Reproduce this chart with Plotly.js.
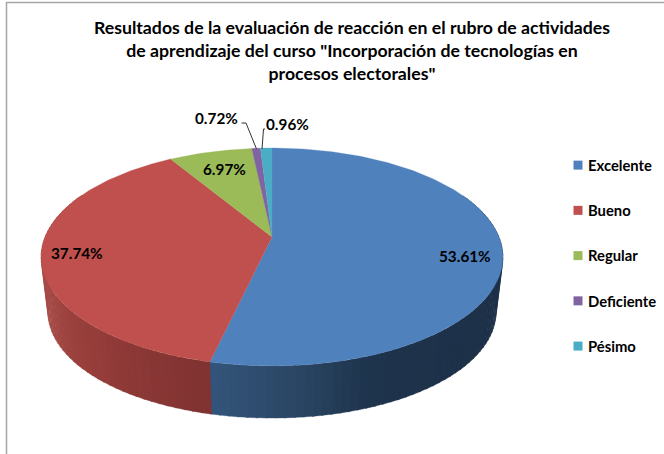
<!DOCTYPE html>
<html><head><meta charset="utf-8">
<script src="https://cdn.plot.ly/plotly-3.0.1.min.js"></script>
<style>html,body{margin:0;padding:0;background:#fff}#c{width:664px;height:454px}</style>
</head><body><div id="c"></div>
<script>
const categories = ["Excelente","Bueno","Regular","Deficiente","Pésimo"];
const percents = [53.61,37.74,6.97,0.72,0.96];
const sliceColors = ["#4f81bd","#c0504d","#9bbb59","#8064a2","#4bacc6"];
const labelText = ["53.61%","37.74%","6.97%","0.72%","0.96%"];
const titleText = 'Resultados de la evaluación de reacción en el rubro de actividades<br>de aprendizaje del curso "Incorporación de tecnologías en<br>procesos electorales"';

// projection of the tilted disc onto the pixel-like axes
const apex = {x:272,y:237}, persp = 0.1835, kx = 227, ky = 105.3, base = {s:0.97, dy:56};
function proj(deg){
  const t = deg*Math.PI/180, u = Math.sin(t), v = Math.cos(t), d = 1+persp*v;
  return [kx*u/d, ky*v/d];
}
const top3 = d => { const p = proj(d); return [apex.x+p[0], apex.y-p[1]]; };
const bot3 = d => { const p = proj(d); return [apex.x+base.s*p[0], apex.y-base.s*p[1]+base.dy]; };

function hex(c){return [1,3,5].map(i=>parseInt(c.substr(i,2),16));}
function ramp(stops,x){
  for(let i=0;i<stops.length-1;i++){
    const a=stops[i],b=stops[i+1];
    if((x-a[0])*(x-b[0])<=0){
      const f=(x-a[0])/(b[0]-a[0]), A=hex(a[1]), B=hex(b[1]);
      return 'rgb('+A.map((q,k)=>Math.round(q+(B[k]-q)*f)).join(',')+')';
    }
  }
  return stops[stops.length-1][1];
}
const wallBlue = [[205,"#34567c"],[300,"#2a4562"],[370,"#1e334c"],[510,"#1d3048"]];
const wallRed = [[215,"#7d3231"],[130,"#8c3836"],[70,"#9a403d"],[35,"#aa4f4c"]];

const traces = [];
// side wall strips
const cut = percents[0]*3.6;
for(let d=65; d<295; d+=2){
  const a=top3(d), b=top3(d+2.4), c=bot3(d+2.4), e=bot3(d);
  const mid=(a[0]+b[0])/2;
  const col = d<cut ? ramp(wallBlue,mid) : ramp(wallRed,mid);
  traces.push({type:'scatter',mode:'lines',x:[a[0],b[0],c[0],e[0],a[0]],y:[a[1],b[1],c[1],e[1],a[1]],
    fill:'toself',fillcolor:col,line:{color:col,width:0.3},hoverinfo:'skip',showlegend:false});
}
// top face wedges
let cum=0;
percents.forEach((p,i)=>{
  const s=cum*3.6, f=(cum+p)*3.6; cum+=p;
  const xs=[apex.x], ys=[apex.y];
  const n=Math.max(2,Math.ceil(f-s));
  for(let k=0;k<=n;k++){const q=top3(s+(f-s)*k/n); xs.push(q[0]); ys.push(q[1]);}
  xs.push(apex.x); ys.push(apex.y);
  traces.push({type:'scatter',mode:'lines',x:xs,y:ys,fill:'toself',fillcolor:sliceColors[i],
    line:{color:sliceColors[i],width:0.3},name:categories[i],text:labelText[i],hoverinfo:'name+text',showlegend:false});
});
// legend entries
categories.forEach((c,i)=>{
  traces.push({type:'scatter',mode:'markers',x:[null],y:[null],name:c,legendgroup:c,
    marker:{symbol:'square',size:9,color:sliceColors[i]},showlegend:true});
});

const labelPos = [[465,256],[77,253],[224,169],[216,118],[287,124]];
const annotations = labelText.map((t,i)=>({x:labelPos[i][0],y:labelPos[i][1],xref:'x',yref:'y',text:t,showarrow:false,
  font:{family:'Lato, "Open Sans", sans-serif',size:15.3,color:'#000',weight:700}}));

const gl = (x0,y0,x1,y1,c,w)=>({type:'line',xref:'x',yref:'y',x0,y0,x1,y1,line:{color:c,width:w},layer:'above'});
const shapes = [
  gl(6.5,2.5,6.5,454,'#a6a6a6',1.5), gl(6,2.5,664,2.5,'#a6a6a6',1.5),
  gl(241.5,123,246,123,'#333',1), gl(246,123,256.5,149,'#333',1),
  gl(265,129,263.5,129,'#333',1), gl(263.5,129,262,149,'#333',1)
];

Plotly.newPlot('c',traces,{
  width:664,height:454,margin:{l:0,r:0,t:0,b:0},paper_bgcolor:'#fff',plot_bgcolor:'#fff',
  xaxis:{range:[0,664],visible:false,fixedrange:true},
  yaxis:{range:[454,0],visible:false,fixedrange:true},
  title:{text:titleText,x:352/664,xanchor:'center',y:1-34/454,yanchor:'top',
    font:{family:'Lato, "Open Sans", sans-serif',size:17.7,color:'#000',weight:700}},
  legend:{x:563/664,xanchor:'left',y:1-149/454,yanchor:'top',tracegroupgap:23,indentation:-15,
    font:{family:'Lato, "Open Sans", sans-serif',size:14.8,color:'#000',weight:700},bgcolor:'rgba(0,0,0,0)'},
  annotations,shapes,showlegend:true,hovermode:'closest'
},{displayModeBar:false,responsive:false}).then(()=>{
  // Move the legend swatches next to their labels, as in the original
  document.querySelectorAll('#c .legend .legendpoints').forEach(g=>{
    g.setAttribute('transform','translate(10,0)');
  });
});
</script></body></html>
